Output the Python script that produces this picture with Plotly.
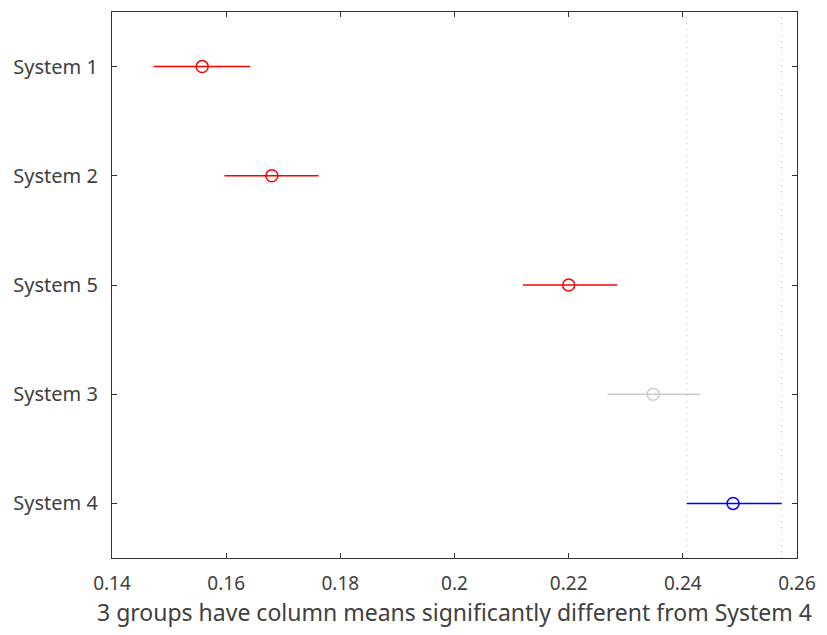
import plotly.graph_objects as go

groups = ["System 1", "System 2", "System 5", "System 3", "System 4"]
means = [0.1558, 0.1680, 0.2200, 0.2348, 0.2488]
lower = [0.1473, 0.1597, 0.2120, 0.2268, 0.2407]
upper = [0.1642, 0.1762, 0.2285, 0.2430, 0.2573]
colors = ["#ff0000", "#ff0000", "#ff0000", "#cccccc", "#0000ff"]
ref_index = 4
x_ticks = [0.14, 0.16, 0.18, 0.2, 0.22, 0.24, 0.26]
x_ticktext = ["0.14", "0.16", "0.18", "0.2", "0.22", "0.24", "0.26"]
x_label = "3 groups have column means significantly different from System 4"

fig = go.Figure()
for i, g in enumerate(groups):
    pos = i + 1
    fig.add_trace(go.Scatter(
        x=[lower[i], upper[i]], y=[pos, pos], mode="lines",
        line=dict(color=colors[i], width=1.5), showlegend=False, hoverinfo="skip"))
    fig.add_trace(go.Scatter(
        x=[means[i]], y=[pos], mode="markers",
        marker=dict(symbol="circle-open", size=12, color=colors[i], line=dict(width=1.5)),
        showlegend=False, name=g))

for xv in (lower[ref_index], upper[ref_index]):
    fig.add_shape(type="line", x0=xv, x1=xv, y0=0, y1=1, xref="x", yref="paper",
                  line=dict(color="#bdbdbd", width=1, dash="1px,5px"), layer="below")

axis_common = dict(showline=True, linecolor="#333333", linewidth=1.2, mirror="ticks",
                   ticks="inside", ticklen=5, tickcolor="#333333", showgrid=False,
                   zeroline=False)
fig.update_layout(
    width=827, height=635, margin=dict(l=112, r=26, t=11, b=77),
    paper_bgcolor="white", plot_bgcolor="white",
    font=dict(family="Noto Sans", color="#404040"),
    xaxis=dict(range=[0.14, 0.26], tickvals=x_ticks, ticktext=x_ticktext,
               ticklabelstandoff=8, tickfont=dict(size=19, color="#404040"),
               title=dict(text=x_label, font=dict(size=23, color="#404040"), standoff=5),
               **axis_common),
    yaxis=dict(range=[5.5, 0.5], tickvals=list(range(1, len(groups) + 1)), ticktext=groups,
               ticklabelstandoff=9, tickfont=dict(size=20, color="#404040"), **axis_common),
)
fig.write_html("out.html")
